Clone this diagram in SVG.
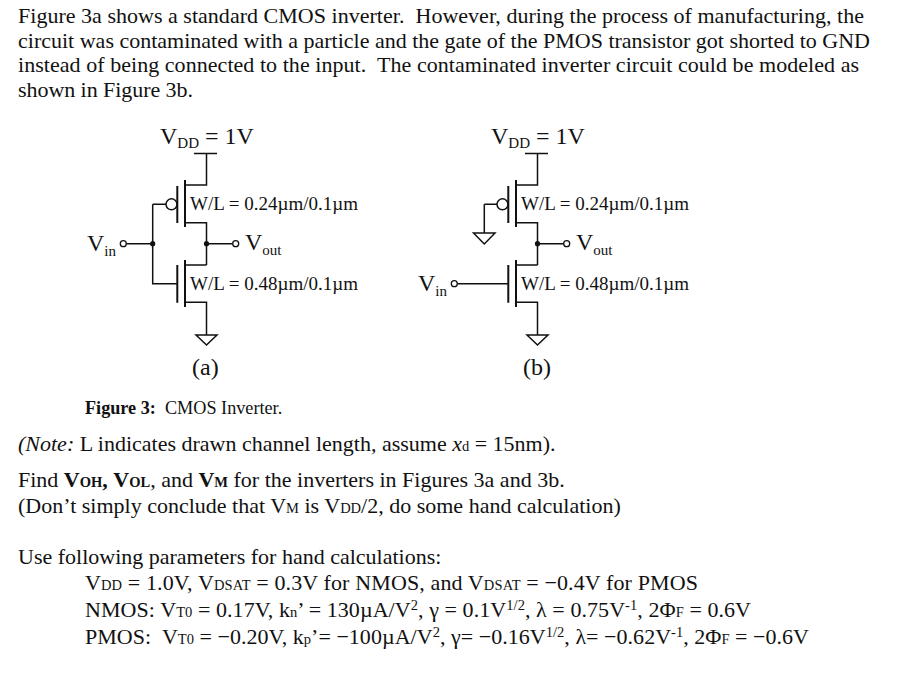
<svg xmlns="http://www.w3.org/2000/svg" width="918" height="677" viewBox="0 0 918 677">
<defs>
<style>
text{font-family:"Liberation Serif","Times New Roman",serif;fill:#111;font-size:22px;white-space:pre}
.l{font-size:24px}
.w{font-size:19px}
.s{font-size:15px}
.ss{font-size:14.5px}
.c{font-size:18.2px}
.w2{stroke:#111;stroke-width:1.5;fill:none}
.t{stroke:#111;stroke-width:2;fill:none}
.o{stroke:#111;stroke-width:1.3;fill:#fff}
.d{fill:#111}
</style>
<g id="pmos"><path class="t" d="M185 180V227M177.3 186V223"/><circle class="w2" cx="171.5" cy="204.3" r="5.5"/><path class="w2" d="M185 185H206.5V153.5M194 153.5H217M185 222.7H206.5V265"/></g>
<g id="nmos"><path class="t" d="M185 260V307M177.3 265V302.7"/><path class="w2" d="M185 265H206.5M185 302.3H206.5V335M196 335H217L206.5 345Z"/></g>
</defs>
<rect width="918" height="677" fill="#fff"/>
<g id="paragraph">
<text x="18" y="23" textLength="846">Figure 3a shows a standard CMOS inverter.  However, during the process of manufacturing, the</text>
<text x="18" y="47.5" textLength="852">circuit was contaminated with a particle and the gate of the PMOS transistor got shorted to GND</text>
<text x="18" y="72" textLength="841">instead of being connected to the input.  The contaminated inverter circuit could be modeled as</text>
<text x="18" y="97" textLength="175">shown in Figure 3b.</text>
</g>
<g id="connectors">
<path class="w2" d="M126.5 243.7H152.7M152.7 204.3V283.7H177M152.7 204.3H166M206.5 243.7H232.5"/>
<path class="w2" d="M484.3 204.3H497M484.3 204.3V233M473.5 233H495L484.3 244ZM537.5 243.7H563.5M457.5 283.7H508.3"/>
</g>
<g id="inverter-a">
<use href="#pmos"/><use href="#nmos"/>
<circle class="o" cx="123.3" cy="243.7" r="3"/><circle class="o" cx="235.7" cy="243.7" r="3"/>
<circle class="d" cx="152.7" cy="243.7" r="2.6"/><circle class="d" cx="206.5" cy="243.7" r="2.6"/>
<text class="l" x="160" y="144">V<tspan class="s" dy="4">DD</tspan><tspan dy="-4"> = 1V</tspan></text>
<text class="w" x="190" y="210">W/L = 0.24µm/0.1µm</text>
<text class="w" x="190" y="290">W/L = 0.48µm/0.1µm</text>
<text class="l" x="87" y="251">V<tspan class="s" dy="5">in</tspan></text>
<text class="l" x="245" y="250">V<tspan class="s" dy="5">out</tspan></text>
<text class="l" x="192" y="375">(a)</text>
</g>
<g id="inverter-b">
<use href="#pmos" x="331"/><use href="#nmos" x="331"/>
<circle class="o" cx="454.3" cy="283.7" r="3"/><circle class="o" cx="566.7" cy="243.7" r="3"/>
<circle class="d" cx="537.5" cy="243.7" r="2.6"/>
<text class="l" x="491" y="144">V<tspan class="s" dy="4">DD</tspan><tspan dy="-4"> = 1V</tspan></text>
<text class="w" x="521" y="210">W/L = 0.24µm/0.1µm</text>
<text class="w" x="521" y="290">W/L = 0.48µm/0.1µm</text>
<text class="l" x="418" y="291">V<tspan class="s" dy="5">in</tspan></text>
<text class="l" x="576" y="250">V<tspan class="s" dy="5">out</tspan></text>
<text class="l" x="523" y="375">(b)</text>
</g>
<g id="caption">
<text class="c" x="85" y="414"><tspan font-weight="bold">Figure 3:</tspan>  CMOS Inverter.</text>
</g>
<g id="notes">
<text x="18" y="451"><tspan font-style="italic">(Note:</tspan> L indicates drawn channel length, assume <tspan font-style="italic">x</tspan><tspan class="ss">d</tspan> = 15nm).</text>
<text x="18" y="487">Find <tspan font-weight="bold">V</tspan><tspan class="ss" font-weight="bold">OH</tspan><tspan font-weight="bold">,</tspan> <tspan font-weight="bold">V</tspan><tspan class="ss" font-weight="bold">OL</tspan>, and <tspan font-weight="bold">V</tspan><tspan class="ss" font-weight="bold">M</tspan> for the inverters in Figures 3a and 3b.</text>
<text x="18" y="513">(Don’t simply conclude that V<tspan class="ss">M</tspan> is V<tspan class="ss">DD</tspan>/2, do some hand calculation)</text>
<text x="18" y="564">Use following parameters for hand calculations:</text>
<text x="85" y="590" textLength="613">V<tspan class="ss">DD</tspan> = 1.0V, V<tspan class="ss">DSAT</tspan> = 0.3V for NMOS, and V<tspan class="ss">DSAT</tspan> = −0.4V for PMOS</text>
<text x="85" y="617" textLength="666">NMOS: V<tspan class="ss">T0</tspan> = 0.17V, k<tspan class="ss">n</tspan>’ = 130µA/V<tspan class="ss" dy="-7">2</tspan><tspan dy="7">, γ = 0.1V</tspan><tspan class="ss" dy="-7">1/2</tspan><tspan dy="7">, λ = 0.75V</tspan><tspan class="ss" dy="-7">-1</tspan><tspan dy="7">, 2Φ</tspan><tspan class="ss">F</tspan> = 0.6V</text>
<text x="85" y="644" textLength="724">PMOS:  V<tspan class="ss">T0</tspan> = −0.20V, k<tspan class="ss">p</tspan>’= −100µA/V<tspan class="ss" dy="-7">2</tspan><tspan dy="7">, γ= −0.16V</tspan><tspan class="ss" dy="-7">1/2</tspan><tspan dy="7">, λ= −0.62V</tspan><tspan class="ss" dy="-7">-1</tspan><tspan dy="7">, 2Φ</tspan><tspan class="ss">F</tspan> = −0.6V</text>
</g>
</svg>
